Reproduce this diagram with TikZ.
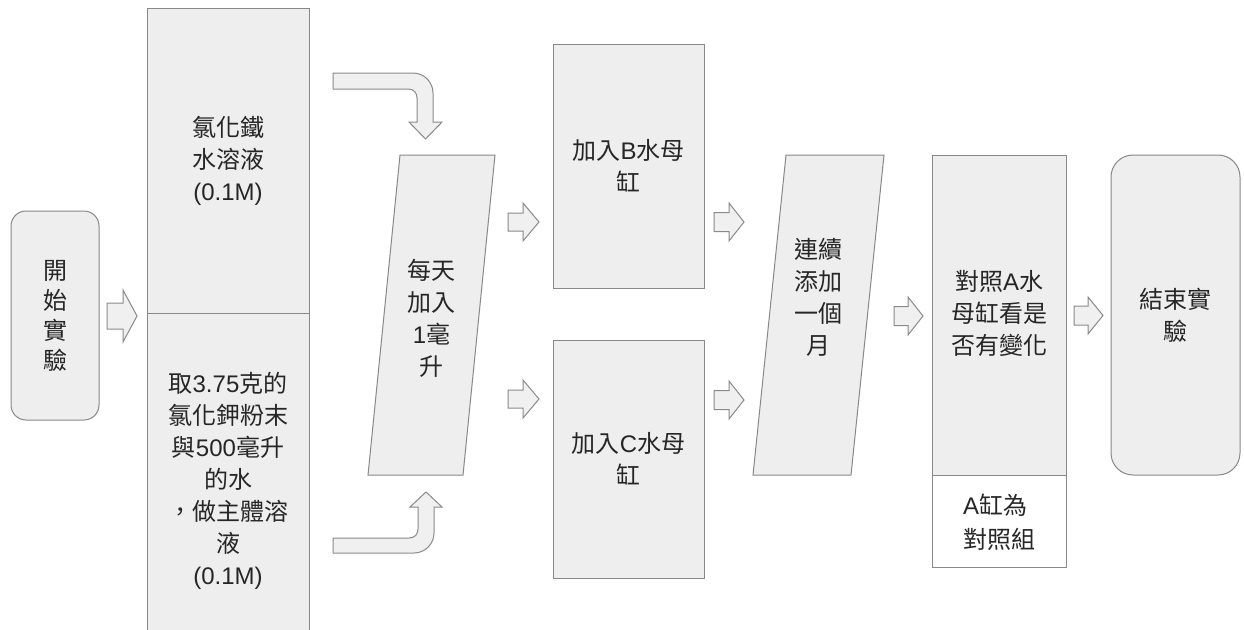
\documentclass[tikz,border=0pt]{standalone}
\usepackage{fontspec}
\setmainfont{Noto Sans CJK TC}
\newfontfamily\lat{Liberation Sans}
\definecolor{boxc}{HTML}{EEEEEE}
\definecolor{linec}{HTML}{888888}
\definecolor{arrf}{HTML}{F0F0F0}
\definecolor{arrc}{HTML}{8A8A8A}
\definecolor{txtc}{HTML}{262626}
\tikzset{
  box/.style={draw=linec, fill=boxc, line width=1pt},
  lbl/.style={text=txtc, align=center, font=\fontsize{24}{32}\selectfont, inner sep=0pt},
  blk/.style={draw=arrc, fill=arrf, line width=1pt, line join=miter},
}
\newcommand\blockarr[6]{\draw[blk] ({#1},{#3-#5}) -- ({#6},{#3-#5}) -- ({#6},{#3-#4}) -- ({#2},{#3}) -- ({#6},{#3+#4}) -- ({#6},{#3+#5}) -- ({#1},{#3+#5}) -- cycle;}
\begin{document}
\begin{tikzpicture}[x=1pt,y=-1pt]
\useasboundingbox (0,0) rectangle (1244,629);
\clip (0,0) rectangle (1244,629);
\fill[white] (0,0) rectangle (1244,629);
% start
\node[box, rounded corners=15pt, minimum width=88pt, minimum height=209pt, lbl, font=\fontsize{24}{30}\selectfont] (start) at (55,315.5) {開\\始\\實\\驗};
% left column
\node[box, minimum width=162pt, minimum height=305pt, lbl] (fe) at (228,160.5) {氯化鐵\\水溶液\\{\lat (0.1M)}};
\node[box, minimum width=162pt, minimum height=336pt, lbl] (kcl) at (228,481) {取{\lat 3.75}克的\\氯化鉀粉末\\與{\lat 500}毫升\\的水\\，做主體溶\\液\\{\lat (0.1M)}};
% curved arrows
\draw[blk] (333,73) -- (413,73) .. controls (424,73) and (433,82) .. (433,93) -- (433,122) -- (442,122) -- (425.5,139) -- (409,122) -- (417,122) -- (417,98) .. controls (417,93) and (414,89) .. (408,89) -- (333,89) -- cycle;
\draw[blk] (333,538) -- (409,538) .. controls (415,538) and (418,534) .. (418,529) -- (418,507) -- (410,507) -- (426,492) -- (442,507) -- (434,507) -- (434,533) .. controls (434,544) and (425,553) .. (414,553) -- (333,553) -- cycle;
% parallelogram 1
\draw[box] (400,155) -- (495,155) -- (463,475) -- (368,475) -- cycle;
\node[lbl] (daily) at (431.5,318) {每天\\加入\\{\lat 1}毫\\升};
% B and C
\node[box, minimum width=151pt, minimum height=244pt, lbl] (tankb) at (628.5,166) {加入{\lat B}水母\\缸};
\node[box, minimum width=151pt, minimum height=238pt, lbl] (tankc) at (628.5,459) {加入{\lat C}水母\\缸};
% parallelogram 2
\draw[box] (786,155) -- (884,155) -- (851,475) -- (753,475) -- cycle;
\node[lbl] (month) at (818.5,297) {連續\\添加\\一個\\月};
% compare
\node[box, minimum width=134pt, minimum height=320pt] (cmp) at (999,315) {};
\node[lbl] (cmptxt) at (999,313) {對照{\lat A}水\\母缸看是\\否有變化};
\node[draw=linec, fill=white, line width=1pt, minimum width=134pt, minimum height=92pt] (ctrlbox) at (999,521) {};
\node[lbl, align=left, font=\fontsize{24}{34}\selectfont] (ctrl) at (999,522) {{\lat A}缸為\\對照組};
% end
\node[box, rounded corners=22pt, minimum width=129pt, minimum height=320pt, lbl] (end) at (1175.5,315) {結束實\\驗};
% block arrows
\blockarr{107}{137}{316}{26}{13}{123}
\blockarr{508}{539}{222}{19}{9}{523}
\blockarr{508}{539}{399}{19}{9}{523}
\blockarr{714}{744}{222}{19}{9.5}{729}
\blockarr{714}{744}{400}{19}{9.5}{729}
\blockarr{894}{923}{316}{19}{9.5}{908}
\blockarr{1074}{1103}{315.5}{18.5}{9.5}{1088}
\end{tikzpicture}
\end{document}
